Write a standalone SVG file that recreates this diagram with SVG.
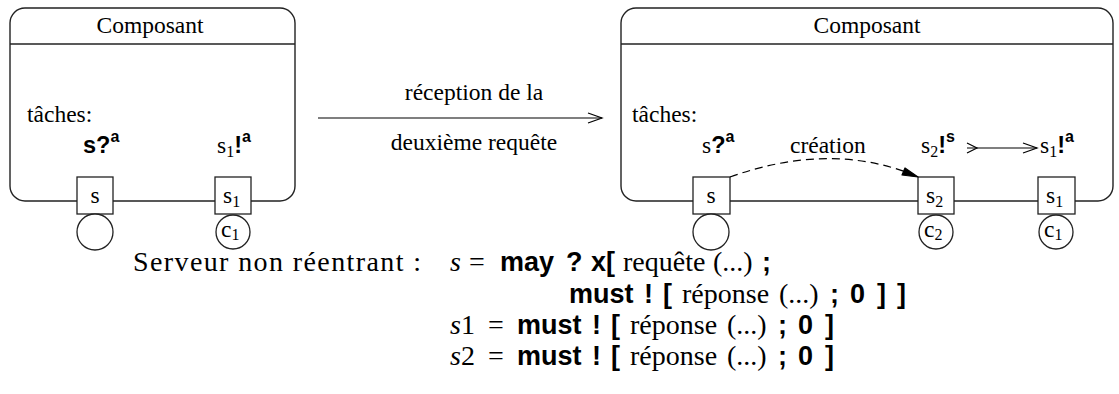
<svg xmlns="http://www.w3.org/2000/svg" width="1119" height="394" viewBox="0 0 1119 394">
<style>
.frame{fill:none;stroke:#222;stroke-width:1.4}
.port{fill:#fff;stroke:#222;stroke-width:1.3}
.tm{font-family:"Liberation Serif",serif;font-size:23.5px;fill:#000}
.bs{font-family:"Liberation Sans",sans-serif;font-weight:bold}
.sup{font-family:"Liberation Sans",sans-serif;font-weight:bold;font-size:16px}
.sub{font-size:16px}
.ln{fill:none;stroke:#000;stroke-width:1.2}
.cm{font-family:"Liberation Serif",serif;font-size:28px;fill:#000}
.cmb{font-family:"Liberation Sans",sans-serif;font-weight:bold;font-size:27px}
.it{font-style:italic}
</style>
<g id="composant-avant">
<rect class="frame" x="10" y="8" width="285" height="193" rx="15"/>
<line class="frame" x1="10" y1="44" x2="295" y2="44"/>
<text class="tm" x="150" y="33" text-anchor="middle">Composant</text>
<text class="tm" x="27" y="122">tâches:</text>
<text class="tm" x="83" y="153"><tspan class="bs">s?</tspan><tspan class="sup" dy="-11">a</tspan></text>
<text class="tm" x="217" y="153">s<tspan class="sub" dy="4">1</tspan><tspan class="bs" dy="-4">!</tspan><tspan class="sup" dy="-11">a</tspan></text>
</g>
<g id="port-s-avant">
<rect class="port" x="77" y="177" width="36" height="37"/>
<text class="tm" x="95" y="203" text-anchor="middle">s</text>
<circle class="port" cx="95" cy="232" r="18"/>
</g>
<g id="port-s1-avant">
<rect class="port" x="215" y="177" width="36" height="37"/>
<text class="tm" x="223" y="203">s<tspan class="sub" dy="4">1</tspan></text>
<circle class="port" cx="233" cy="232" r="17"/>
<text class="tm" x="221" y="237">c<tspan class="sub" dy="3">1</tspan></text>
</g>
<g id="composant-apres">
<rect class="frame" x="621" y="8" width="492" height="193" rx="15"/>
<line class="frame" x1="621" y1="44" x2="1113" y2="44"/>
<text class="tm" x="867" y="33" text-anchor="middle">Composant</text>
<text class="tm" x="632" y="122">tâches:</text>
<text class="tm" x="702" y="153">s<tspan class="bs">?</tspan><tspan class="sup" dy="-11">a</tspan></text>
<text class="tm" x="790" y="153">création</text>
<text class="tm" x="921" y="153">s<tspan class="sub" dy="4">2</tspan><tspan class="bs" dy="-4">!</tspan><tspan class="sup" dy="-11">s</tspan></text>
<text class="tm" x="1040" y="153">s<tspan class="sub" dy="4">1</tspan><tspan class="bs" dy="-4">!</tspan><tspan class="sup" dy="-11">a</tspan></text>
</g>
<g id="port-s-apres">
<rect class="port" x="693" y="177" width="37" height="37"/>
<text class="tm" x="711" y="203" text-anchor="middle">s</text>
<circle class="port" cx="711" cy="232" r="18"/>
</g>
<g id="port-s2-apres">
<rect class="port" x="918" y="177" width="36" height="37"/>
<text class="tm" x="926" y="203">s<tspan class="sub" dy="4">2</tspan></text>
<circle class="port" cx="936" cy="232" r="17"/>
<text class="tm" x="924" y="237">c<tspan class="sub" dy="3">2</tspan></text>
</g>
<g id="port-s1-apres">
<rect class="port" x="1038" y="177" width="37" height="37"/>
<text class="tm" x="1046" y="203">s<tspan class="sub" dy="4">1</tspan></text>
<circle class="port" cx="1056" cy="232" r="17"/>
<text class="tm" x="1044" y="237">c<tspan class="sub" dy="3">1</tspan></text>
</g>
<g id="connecteurs">
<line class="ln" x1="318" y1="118" x2="602" y2="118"/>
<polyline class="ln" points="588,113 602,118 588,123"/>
<text class="tm" x="474" y="100" text-anchor="middle">réception de la</text>
<text class="tm" x="474" y="150" text-anchor="middle">deuxième requête</text>
<path class="ln" d="M730,177 Q825,143 906,172" stroke-dasharray="8,5"/>
<polygon points="918,177 905,168 902,175" fill="#000" stroke="#000" stroke-width="1.2" stroke-linejoin="round"/>
<line class="ln" x1="967" y1="148" x2="1037" y2="148"/>
<polyline class="ln" points="967,143 977,148 967,153"/>
<polyline class="ln" points="1023,143 1037,148 1023,153"/>
</g>
<g id="specification">
<text class="cm" x="133" y="271" textLength="288" lengthAdjust="spacing">Serveur non réentrant :</text>
<text class="cm" y="271"><tspan class="it" x="450">s</tspan><tspan x="469">=</tspan><tspan class="cmb" x="500">may</tspan><tspan class="cmb" x="566">?</tspan><tspan class="cmb" x="591">x[</tspan><tspan x="623">requête</tspan><tspan x="713">(...)</tspan><tspan class="cmb" x="762">;</tspan></text>
<text class="cm" y="303"><tspan class="cmb" x="569">must</tspan><tspan class="cmb" x="644">!</tspan><tspan class="cmb" x="663">[</tspan><tspan x="682">réponse</tspan><tspan x="779">(...)</tspan><tspan class="cmb" x="830">;</tspan><tspan class="cmb" x="850">0</tspan><tspan class="cmb" x="877">]</tspan><tspan class="cmb" x="897">]</tspan></text>
<text class="cm" y="334"><tspan class="it" x="450">s</tspan><tspan x="461">1</tspan><tspan x="488">=</tspan><tspan class="cmb" x="517">must</tspan><tspan class="cmb" x="592">!</tspan><tspan class="cmb" x="611">[</tspan><tspan x="630">réponse</tspan><tspan x="727">(...)</tspan><tspan class="cmb" x="778">;</tspan><tspan class="cmb" x="798">0</tspan><tspan class="cmb" x="825">]</tspan></text>
<text class="cm" y="365"><tspan class="it" x="450">s</tspan><tspan x="461">2</tspan><tspan x="488">=</tspan><tspan class="cmb" x="517">must</tspan><tspan class="cmb" x="592">!</tspan><tspan class="cmb" x="611">[</tspan><tspan x="630">réponse</tspan><tspan x="727">(...)</tspan><tspan class="cmb" x="778">;</tspan><tspan class="cmb" x="798">0</tspan><tspan class="cmb" x="825">]</tspan></text>
</g>
</svg>
